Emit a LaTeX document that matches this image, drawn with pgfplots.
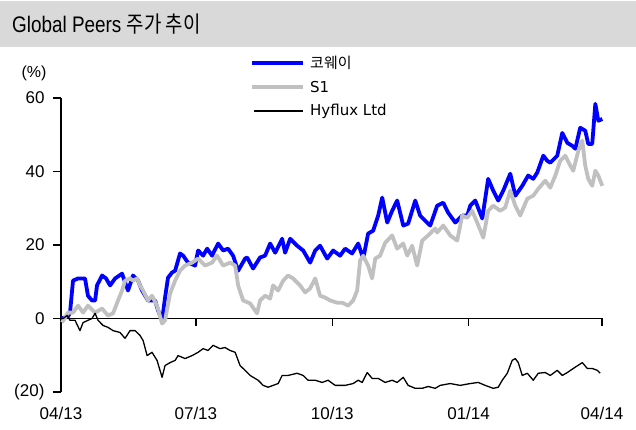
\documentclass[border=0pt]{standalone}
\usepackage{fontspec}
\setmainfont{Liberation Sans}
\newfontfamily\krfont{Noto Sans CJK KR}
\newfontfamily\titlelat{Liberation Sans}[FakeStretch=0.84]
\newfontfamily\titlekr{Noto Sans CJK KR}[FakeStretch=0.84]
\newfontfamily\legfont{DejaVu Sans}
\usepackage{pgfplots}
\pgfplotsset{compat=1.18}
\definecolor{band}{HTML}{D9D9D9}
\definecolor{kwblue}{HTML}{0000FF}
\definecolor{s1gray}{HTML}{C0C0C0}
\begin{document}
\begin{tikzpicture}[x=1pt,y=1pt]
\useasboundingbox (0,0) rectangle (636,430);
\fill[band] (0,383) rectangle (636,429);
\node[anchor=base west, inner sep=0] at (12,397) {\fontsize{22.5}{26}\selectfont\titlelat Global Peers \titlekr 주가 추이};
\begin{axis}[
  at={(61pt,38pt)}, anchor=south west, scale only axis,
  width=541pt, height=294pt,
  xmin=0, xmax=365, ymin=-20, ymax=60,
  axis y line*=left, axis x line*=bottom,
  x axis line style={draw=none}, xtick style={draw=none},
  y axis line style={line width=1.2pt},
  xtick={0,91,183,275,365}, xticklabels={04/13,07/13,10/13,01/14,04/14},
  ytick={-20,0,20,40,60}, yticklabels={(20),0,20,40,60},
  tick align=outside, major tick length=8pt,
  ytick style={line width=1.2pt, black},
  /pgf/number format/assume math mode=true,
  tick label style={font=\fontsize{17}{20}\selectfont},
  xticklabel style={yshift=-4pt},
  yticklabel style={xshift=-5pt},
  clip=false,
  every axis plot/.append style={line join=round, mark=none},
]
\draw[line width=1.2pt] (axis cs:0,0) -- (axis cs:365,0);
% 코웨이
\addplot[kwblue, line width=3.8pt] coordinates {
(0,0) (4.7,0.5) (6.1,1.6) (8.1,10.3) (11.5,10.9) (16.2,10.9) (18.2,6.2) (20.9,4.9)
(23.0,4.9) (24.3,9.0) (27.7,11.7) (30.4,10.9) (33.1,9.0) (36.5,10.9) (41.2,12.2)
(45.2,7.6) (48.6,11.7) (52.0,10.3) (54.7,7.6) (58.7,4.9) (63.5,4.9) (65.5,2.2)
(68.2,-0.5) (70.2,5.7) (72.2,11.1) (74.9,12.5) (77.0,13.0) (80.3,17.7) (82.4,17.1)
(85.7,15.2) (90.5,14.4) (92.5,18.5) (95.9,17.1) (98.6,19.0) (101.9,17.1) (106.0,20.4)
(109.4,18.5) (112.7,19.0) (116.1,17.1) (119.5,13.0) (124.2,16.3) (125.6,16.6)
(129.6,13.6) (134.3,16.6) (137.7,17.1) (141.1,20.4) (144.5,17.9) (149.2,21.7)
(151.2,17.9) (154.6,21.7) (159.3,19.8) (163.4,18.5) (168.1,15.2) (171.5,18.5)
(174.8,19.8) (179.6,16.3) (183.6,18.5) (188.3,17.1) (191.7,19.0) (196.4,17.7)
(200.5,20.4) (203.9,16.3) (207.2,23.1) (210.6,23.9) (214.0,28.0) (216.7,32.9)
(220.1,26.1) (223.4,29.3) (226.8,32.1) (230.9,25.3) (234.2,25.8) (239.0,32.1)
(242.3,28.0) (245.7,26.6) (249.1,25.3) (253.8,30.7) (257.9,31.5) (261.2,28.8)
(266.0,26.1) (270.7,28.0) (274.1,28.0) (276.1,30.7) (279.5,32.1) (284.2,27.2)
(288.2,38.0) (291.6,34.8) (295.0,32.1) (298.4,34.8) (303.1,39.4) (306.5,33.4)
(311.2,36.1) (315.2,38.9) (318.6,38.0) (321.3,39.7) (325.4,44.3) (328.1,42.9)
(330.1,42.4) (334.8,44.3) (338.2,50.5) (341.6,47.8) (344.9,47.0) (347.0,46.2)
(350.3,51.9) (353.7,51.1) (355.7,47.5) (358.4,47.5) (360.5,58.4) (362.5,53.8)
(365.2,54.3)
};
% S1
\addplot[s1gray, line width=3.8pt] coordinates {
(0.7,-1.1) (4.7,1.6) (8.1,1.6) (11.5,3.5) (14.9,1.6) (18.2,3.5) (23.0,1.6) (27.7,2.7)
(31.7,0.8) (35.1,1.4) (38.5,4.9) (41.2,7.6) (43.2,10.3) (46.6,10.9) (48.6,10.3)
(51.3,10.9) (53.3,9.0) (55.4,7.6) (58.7,4.9) (61.4,6.2) (64.8,3.5) (68.2,-1.4)
(70.2,-0.5) (73.6,6.8) (77.0,10.3) (80.3,13.0) (83.7,14.4) (88.4,15.2) (92.5,16.3)
(97.2,14.4) (101.9,15.2) (105.3,17.1) (109.4,14.4) (114.1,15.2) (117.5,14.4)
(119.5,9.0) (122.9,4.9) (127.6,4.1) (132.3,1.4) (134.3,4.9) (137.7,6.2) (141.1,5.4)
(143.1,9.0) (146.5,7.6) (149.9,10.3) (153.2,11.7) (156.6,10.9) (161.3,9.0)
(164.7,7.1) (168.1,8.2) (171.5,10.9) (174.8,6.2) (178.2,5.7) (181.6,4.9) (186.3,4.3)
(189.7,4.3) (193.7,3.5) (197.1,4.9) (199.8,7.6) (201.8,15.8) (203.9,17.1)
(207.2,14.4) (209.9,10.9) (212.0,16.3) (215.3,17.1) (218.7,20.6) (223.4,22.6)
(226.8,19.0) (230.9,20.4) (233.6,17.1) (236.9,19.8) (240.3,14.4) (243.7,21.2)
(247.7,22.6) (252.5,24.5) (253.8,23.4) (257.9,25.3) (262.6,22.6) (267.3,21.2)
(270.7,28.0) (274.1,27.4) (277.4,29.3) (280.8,26.1) (284.9,22.0) (288.2,29.3)
(291.6,30.7) (296.3,29.3) (299.7,30.2) (303.1,34.8) (306.5,30.7) (309.8,28.0)
(314.6,32.6) (318.6,33.4) (322.0,35.3) (326.7,37.5) (330.1,35.6) (333.5,38.9)
(336.8,42.9) (340.2,44.3) (343.6,41.6) (345.6,40.2) (349.0,45.6) (351.7,48.4)
(353.7,41.6) (355.7,38.0) (358.4,36.1) (360.5,40.2) (362.5,38.9) (365.2,36.1)
};
% Hyflux Ltd
\addplot[black, line width=1.3pt] coordinates {
(0,0) (1.4,0) (4.1,0.8) (6.1,-0.5) (9.5,-0.5) (12.8,-3.3) (14.9,-1.1) (18.2,-0.5)
(20.9,0) (23.0,1.4) (25.0,-0.5) (28.4,-1.9) (31.7,-2.4) (35.1,-3.3) (39.8,-3.8)
(43.2,-5.4) (46.6,-3.3) (50.0,-3.3) (53.3,-4.6) (55.4,-6.0) (58.1,-10.1) (61.4,-9.2)
(64.8,-11.4) (68.2,-16.0) (70.2,-12.8) (73.6,-12.0) (77.0,-11.4) (79.0,-10.1)
(83.7,-10.9) (88.4,-10.1) (92.5,-9.2) (95.9,-8.2) (99.2,-8.7) (102.6,-7.3)
(107.3,-8.2) (110.7,-7.9) (114.1,-8.7) (117.5,-9.2) (120.8,-12.8) (124.2,-14.1)
(127.6,-15.5) (133.0,-16.8) (136.4,-18.2) (139.7,-18.7) (143.1,-18.2) (146.5,-17.7)
(149.2,-15.5) (153.2,-15.5) (159.3,-14.9) (163.4,-15.5) (166.7,-16.8) (171.5,-16.8)
(176.2,-17.4) (180.2,-16.8) (185.0,-18.2) (191.7,-18.2) (197.1,-17.7) (200.5,-16.8)
(203.2,-17.4) (206.6,-14.7) (209.9,-16.3) (214.0,-16.3) (218.7,-17.4) (223.4,-16.8)
(226.8,-17.4) (230.9,-16.0) (234.2,-18.2) (239.0,-19.0) (243.7,-19.0) (247.7,-18.5)
(252.5,-19.0) (255.8,-18.2) (262.6,-17.7) (269.3,-18.2) (276.1,-17.7) (281.5,-17.4)
(286.2,-18.2) (291.6,-19.0) (295.0,-18.7) (297.7,-16.8) (301.1,-14.9) (304.4,-11.4)
(306.5,-10.9) (308.5,-12.0) (311.2,-15.5) (314.6,-14.9) (318.6,-16.8) (322.0,-14.9)
(326.7,-14.7) (330.1,-15.5) (334.8,-14.1) (338.2,-15.5) (341.6,-14.7) (345.6,-13.6)
(351.7,-12.0) (355.1,-13.6) (358.4,-13.6) (361.8,-14.1) (363.8,-14.9)
};
\draw[line width=1.3pt] (axis cs:91,0) -- (axis cs:91,-2);
\draw[line width=1.3pt] (axis cs:183,0) -- (axis cs:183,-2);
\draw[line width=1.3pt] (axis cs:275,0) -- (axis cs:275,-2);
\draw[line width=1.3pt] (axis cs:365,0) -- (axis cs:365,-2);
\end{axis}
\node[anchor=center, inner sep=0] at (34,357) {\fontsize{16}{19}\selectfont (\%)};
\draw[kwblue, line width=3.8pt] (252,367) -- (303,367);
\node[anchor=west, inner sep=0] at (310,367) {\fontsize{15}{18}\selectfont\krfont 코웨이};
\draw[s1gray, line width=3.8pt] (252,343) -- (303,343);
\node[anchor=west, inner sep=0] at (310,343) {\fontsize{15}{18}\selectfont\legfont S1};
\draw[black, line width=1.3pt] (254,319) -- (303,319);
\node[anchor=west, inner sep=0] at (310,319) {\fontsize{15}{18}\selectfont\legfont Hyflux Ltd};
\end{tikzpicture}
\end{document}
